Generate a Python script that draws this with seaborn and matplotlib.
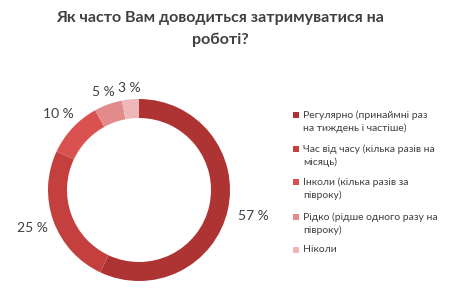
import matplotlib
matplotlib.use("Agg")
import matplotlib.pyplot as plt
import seaborn as sns
import numpy as np
from matplotlib.patches import Rectangle

title = "Як часто Вам доводиться затримуватися на\nроботі?"
categories = [
    "Регулярно (принаймні раз\nна тиждень і частіше)",
    "Час від часу (кілька разів на\nмісяць)",
    "Інколи (кілька разів за\nпівроку)",
    "Рідко (рідше одного разу на\nпівроку)",
    "Ніколи",
]
values = [57, 25, 10, 5, 3, 0]
value_labels = ["57 %", "25 %", "10 %", "5 %", "3 %", ""]
colors = ["#AE3434", "#C4403E", "#D9524F", "#E38B8B", "#EEB8B8", "#F4D6D6"]

sns.set_theme(style="white")
plt.rcParams['font.family'] = ['Lato', 'DejaVu Sans']

fig = plt.figure(figsize=(4.6, 2.99), dpi=100)
ax = fig.add_axes([0, 0, 1, 1])

cx, cy, R = 139, 109, 91
wedges, _ = ax.pie(values, colors=colors, startangle=90, counterclock=False,
                   center=(cx, cy), radius=R, frame=True,
                   wedgeprops=dict(width=19, linewidth=0))
ax.set_xlim(0, 460)
ax.set_ylim(0, 299)
ax.axis("off")

label_dist = [1.29, 1.24, 1.22, 1.15, 1.13, 1.1]
for w, lab, d in zip(wedges, value_labels, label_dist):
    if not lab:
        continue
    ang = np.deg2rad((w.theta1 + w.theta2) / 2)
    ax.text(cx + d * R * np.cos(ang), cy + d * R * np.sin(ang), lab,
            ha="center", va="center", fontsize=10, color="#404040")

ax.text(220, 299 - 29, title, ha="center", va="center", fontsize=11.5,
        fontweight="bold", color="#404040", linespacing=1.6)

item_y = [115, 149, 182, 217, 250]
for cat, col, y in zip(categories, colors, item_y):
    ax.add_patch(Rectangle((293, 299 - y - 3), 6, 6, color=col, lw=0))
    ax.text(303, 299 - y + 5, cat, ha="left", va="top", fontsize=7.5,
            color="#404040", linespacing=1.55)

fig.savefig("out.png", dpi=100)
